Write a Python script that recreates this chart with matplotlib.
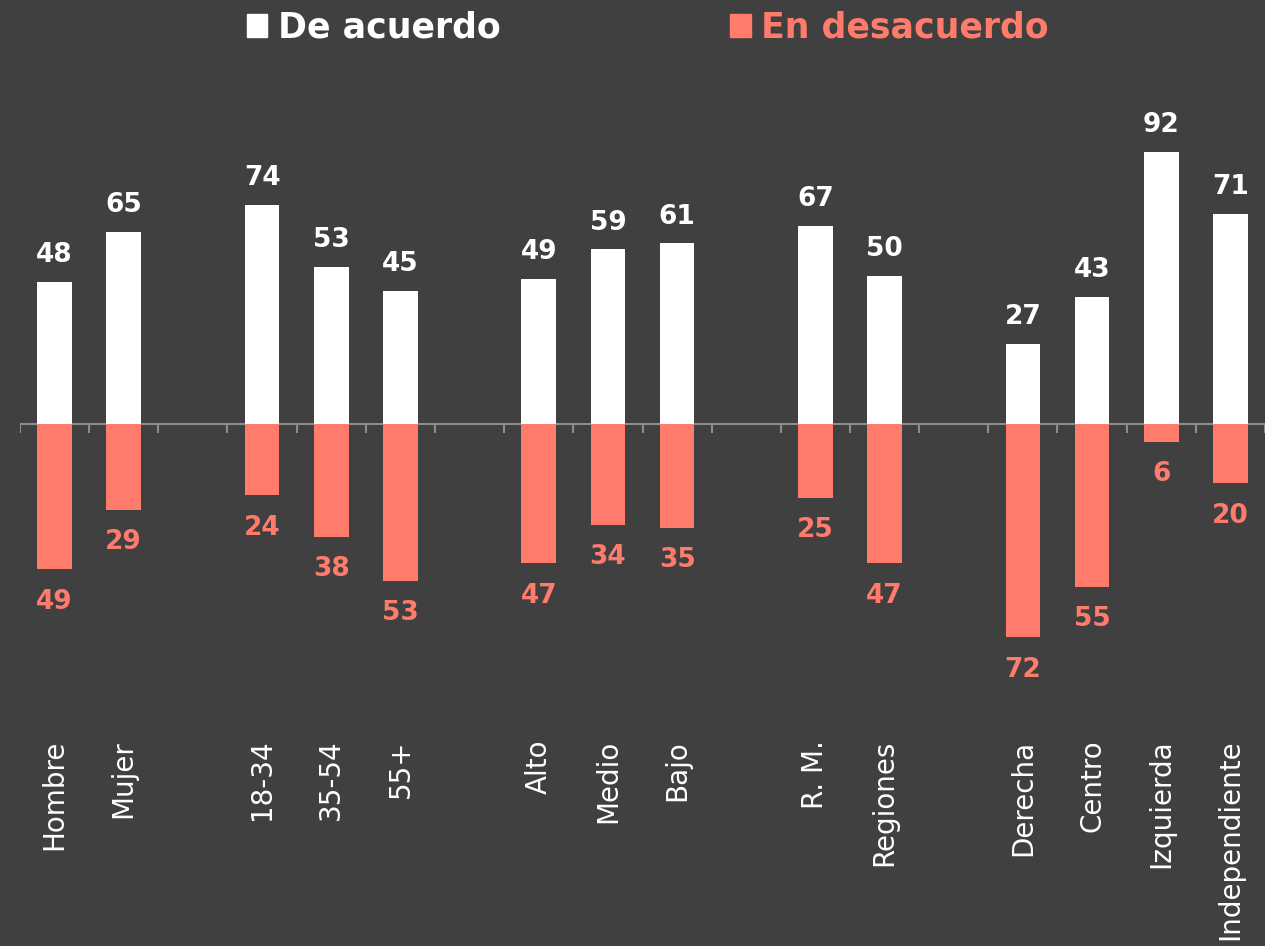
import numpy as np
import matplotlib.pyplot as plt
from matplotlib.patches import Patch

# datos
categorias = ["Hombre", "Mujer",
              "18-34", "35-54", "55+",
              "Alto", "Medio", "Bajo",
              "R. M.", "Regiones",
              "Derecha", "Centro", "Izquierda", "Independiente"]
grupos = [2, 3, 3, 2, 4]
de_acuerdo = [48, 65, 74, 53, 45, 49, 59, 61, 67, 50, 27, 43, 92, 71]
en_desacuerdo = [49, 29, 24, 38, 53, 47, 34, 35, 25, 47, 72, 55, 6, 20]

fondo = "#404040"
blanco = "#FFFFFF"
salmon = "#FF7B6B"
gris = "#8C8C8C"

# posiciones con un hueco entre grupos
pos = []
x = 0
for g in grupos:
    for i in range(g):
        pos.append(x)
        x += 1
    x += 1
pos = np.array(pos)
n_slots = pos[-1] + 1

fig = plt.figure(figsize=(12.65, 9.46), dpi=100, facecolor=fondo)
ax = fig.add_axes([20 / 1265, 226 / 946, 1245 / 1265, 660 / 946])
ax.set_facecolor(fondo)

ax.bar(pos, de_acuerdo, width=0.5, color=blanco, zorder=2)
ax.bar(pos, [-v for v in en_desacuerdo], width=0.5, color=salmon, zorder=2)

ax.set_xlim(-0.5, n_slots - 0.5)
ax.set_ylim(-100, 123)

# eje en cero con marcas entre categorias
ax.axhline(0, color=gris, lw=1.5, zorder=1)
bordes = np.arange(-0.5, n_slots, 1.0)
ax.vlines(bordes, -3, 0, color=gris, lw=1.5, zorder=1)

for p, v in zip(pos, de_acuerdo):
    ax.annotate(str(v), (p, v), xytext=(0, 10), textcoords="offset points",
                ha="center", va="bottom", color=blanco, fontsize=19,
                fontweight="bold")
for p, v in zip(pos, en_desacuerdo):
    ax.annotate(str(v), (p, -v), xytext=(0, -14), textcoords="offset points",
                ha="center", va="top", color=salmon, fontsize=19,
                fontweight="bold")

trans = ax.get_xaxis_transform()
for p, c in zip(pos, categorias):
    ax.text(p, -0.03, c, transform=trans, rotation=90, ha="center", va="top",
            color=blanco, fontsize=20)

ax.set_xticks([])
ax.set_yticks([])
for s in ax.spines.values():
    s.set_visible(False)

handles = [Patch(color=blanco), Patch(color=salmon)]
leg = fig.legend(handles, ["De acuerdo", "En desacuerdo"], loc="upper center",
                 bbox_to_anchor=(0.512, 1.022), ncol=2, frameon=False,
                 handlelength=0.6, handleheight=0.65, handletextpad=0.3,
                 columnspacing=6.6, prop={"size": 25, "weight": "bold"})
for t, c in zip(leg.get_texts(), [blanco, salmon]):
    t.set_color(c)

fig.savefig("out.png", dpi=100, facecolor=fondo)
